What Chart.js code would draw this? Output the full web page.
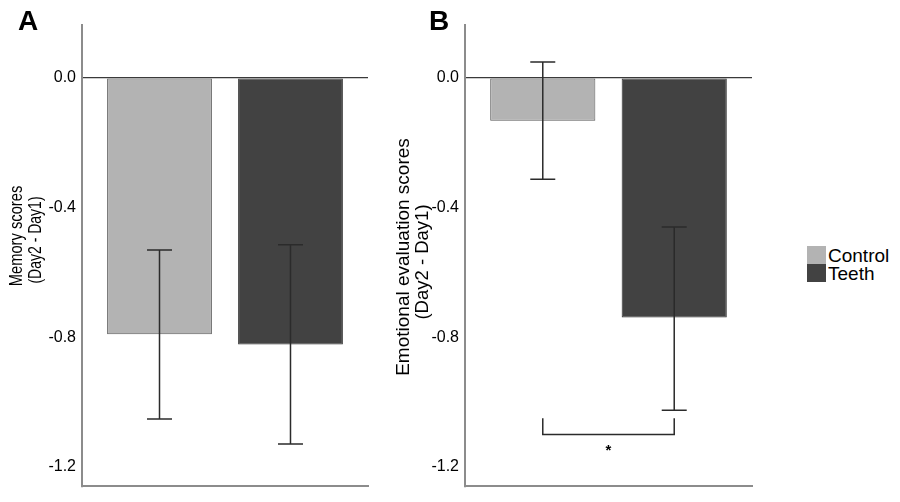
<!DOCTYPE html>
<html>
<head>
<meta charset="utf-8">
<script src="https://cdn.jsdelivr.net/npm/chart.js@4.4.1/dist/chart.umd.min.js"></script>
<style>
  html, body { margin:0; padding:0; background:#fff; }
  body { width:900px; height:502px; overflow:hidden; position:relative; font-family:"Liberation Sans", Arial, sans-serif; color:#000; }
  canvas { position:absolute; top:0; }
  .panel { position:absolute; font-weight:bold; font-size:28px; line-height:28px; }
  .yt { position:absolute; white-space:nowrap; line-height:1; }
  .lg-box { position:absolute; width:19px; height:18px; }
  .lg-txt { position:absolute; font-size:19px; line-height:19px; white-space:nowrap; }
</style>
</head>
<body>
<canvas id="chartA" width="380" height="502" style="left:0;width:380px;height:502px;"></canvas>
<canvas id="chartB" width="390" height="502" style="left:380px;width:390px;height:502px;"></canvas>

<div class="panel" style="left:18px;top:7px;">A</div>
<div class="panel" style="left:429px;top:7px;">B</div>

<div class="yt" style="left:17px;top:236px;font-size:17.5px;transform:translate(-50%,-50%) rotate(-90deg) scaleX(0.84);">Memory scores</div>
<div class="yt" style="left:36px;top:240px;font-size:17.5px;transform:translate(-50%,-50%) rotate(-90deg) scaleX(0.80);">(Day2 - Day1)</div>
<div class="yt" style="left:402px;top:257px;font-size:19px;transform:translate(-50%,-50%) rotate(-90deg);">Emotional evaluation scores</div>
<div class="yt" style="left:422px;top:262px;font-size:18.5px;transform:translate(-50%,-50%) rotate(-90deg);">(Day2 - Day1)</div>

<div id="legend"></div>

<script>
// ---- data ----
const groups = ['Control', 'Teeth'];
const memoryMeans = [-0.791, -0.822];
const memoryUpper = [-0.531, -0.515];
const memoryLower = [-1.052, -1.129];
const emotionMeans = [-0.132, -0.739];
const emotionUpper = [0.049, -0.460];
const emotionLower = [-0.313, -1.025];
const yTickValues = [-1.2, -0.8, -0.4, 0.0];
const yRange = [-1.26, 0.163];
const sigPair = [0, 1];
const sigBracket = [-1.05, -1.10];   // top of legs, horizontal bar (data units)
const sigStar = -1.14;
const sigLabel = '*';

// ---- styles ----
const fills = ['#b3b3b3', '#424242'];
const borders = ['#5a5a5a', '#2e2e2e'];
const axisGrey = '#8c8c8c';

const errorBarPlugin = {
  id: 'errorBars',
  afterDatasetsDraw(chart, args, opts) {
    const ctx = chart.ctx;
    const ys = chart.scales.y;
    const centers = [];
    ctx.save();
    ctx.strokeStyle = '#2b2b2b';
    ctx.lineWidth = 1.5;
    chart.data.datasets.forEach((ds, i) => {
      const bar = chart.getDatasetMeta(i).data[0];
      const x = bar.x;
      centers.push(x);
      const yHi = ys.getPixelForValue(opts.upper[i]);
      const yLo = ys.getPixelForValue(opts.lower[i]);
      const cap = 12.5;
      ctx.beginPath();
      ctx.moveTo(x, yHi); ctx.lineTo(x, yLo);
      ctx.moveTo(x - cap, yHi); ctx.lineTo(x + cap, yHi);
      ctx.moveTo(x - cap, yLo); ctx.lineTo(x + cap, yLo);
      ctx.stroke();
    });
    if (opts.sig) {
      const s = opts.sig;
      const x1 = centers[s.pair[0]], x2 = centers[s.pair[1]];
      const yt = ys.getPixelForValue(s.bracket[0]);
      const yb = ys.getPixelForValue(s.bracket[1]);
      ctx.lineWidth = 1.5;
      ctx.beginPath();
      ctx.moveTo(x1, yt); ctx.lineTo(x1, yb); ctx.lineTo(x2, yb); ctx.lineTo(x2, yt);
      ctx.stroke();
      ctx.fillStyle = '#000';
      ctx.font = 'bold 15px "Liberation Sans", Arial, sans-serif';
      ctx.textAlign = 'center';
      ctx.textBaseline = 'middle';
      ctx.fillText(s.label, (x1 + x2) / 2, ys.getPixelForValue(s.star) + 3);
    }
    ctx.restore();
  }
};

function makeChart(id, means, upper, lower, yWidth, padRight, sig) {
  return new Chart(document.getElementById(id), {
    type: 'bar',
    data: {
      labels: [''],
      datasets: groups.map((g, i) => ({
        label: g,
        data: [means[i]],
        backgroundColor: fills[i],
        borderColor: borders[i],
        borderWidth: 1,
        borderSkipped: false,
        categoryPercentage: 0.916,
        barPercentage: 0.80
      }))
    },
    options: {
      responsive: false,
      animation: false,
      devicePixelRatio: 1,
      layout: { padding: { top: 25, bottom: 13, left: 0, right: padRight } },
      plugins: {
        legend: { display: false },
        tooltip: { enabled: false },
        errorBars: { upper, lower, sig }
      },
      scales: {
        x: {
          display: true,
          ticks: { display: false },
          grid: { display: false, drawTicks: false },
          border: { display: true, color: axisGrey, width: 2 },
          afterFit: s => { s.height = 0; }
        },
        y: {
          min: yRange[0],
          max: yRange[1],
          afterBuildTicks: s => { s.ticks = yTickValues.map(v => ({ value: v })); },
          afterFit: s => { s.width = yWidth; },
          ticks: {
            padding: 6,
            color: '#000',
            font: { family: '"Liberation Sans", Arial, sans-serif', size: 16 },
            callback: v => Number(v).toFixed(1)
          },
          grid: {
            drawTicks: false,
            lineWidth: 1.3,
            color: c => (c.tick && c.tick.value === 0) ? '#3a3a3a' : 'rgba(0,0,0,0)'
          },
          border: { display: true, color: axisGrey, width: 2 }
        }
      }
    },
    plugins: [errorBarPlugin]
  });
}

makeChart('chartA', memoryMeans, memoryUpper, memoryLower, 82, 12, null);
makeChart('chartB', emotionMeans, emotionUpper, emotionLower, 85, 18,
  { pair: sigPair, bracket: sigBracket, star: sigStar, label: sigLabel });

// legend built from groups
const lg = document.getElementById('legend');
groups.forEach((g, i) => {
  const b = document.createElement('div');
  b.className = 'lg-box';
  b.style.left = '807px';
  b.style.top = (246 + i * 18) + 'px';
  b.style.background = fills[i];
  lg.appendChild(b);
  const t = document.createElement('div');
  t.className = 'lg-txt';
  t.style.left = '828px';
  t.style.top = (246 + i * 18) + 'px';
  t.textContent = g;
  lg.appendChild(t);
});
</script>
</body>
</html>
